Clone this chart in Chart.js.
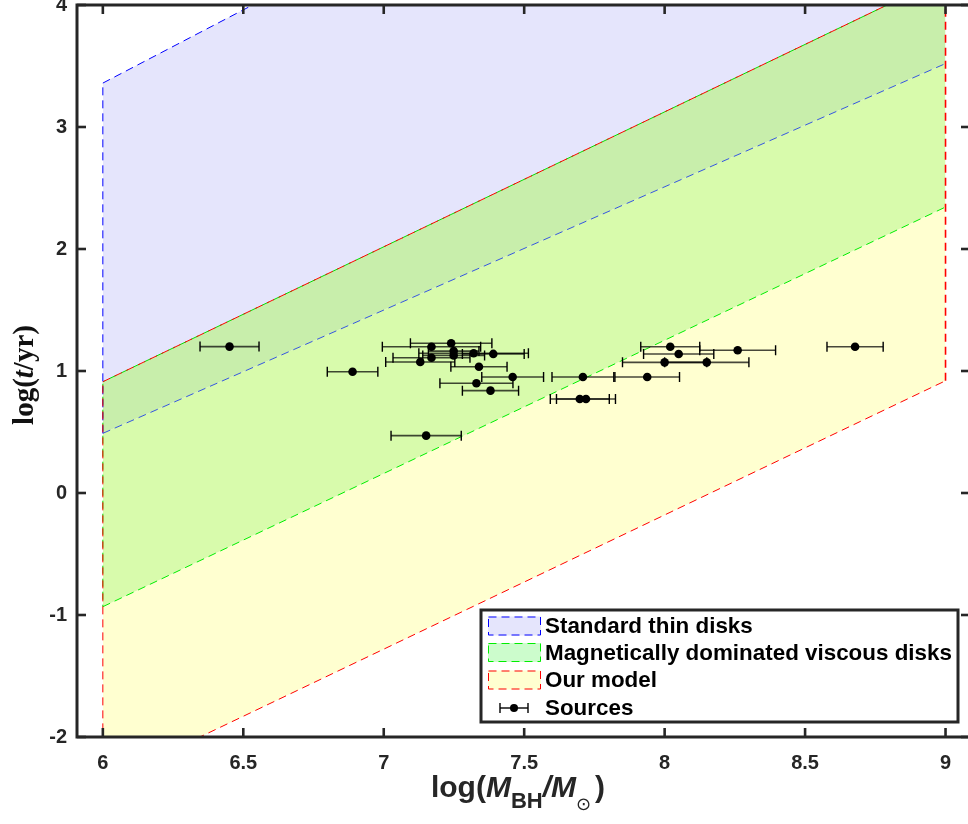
<!DOCTYPE html>
<html>
<head>
<meta charset="utf-8">
<script src="https://cdn.jsdelivr.net/npm/chart.js@4.4.1/dist/chart.umd.min.js"></script>
<style>
html, body { margin: 0; padding: 0; background: #fff; }
</style>
</head>
<body>
<canvas id="myChart" width="968" height="824"></canvas>
<script>
// band boundaries, evaluated at x = 6 and x = 9
var bandX = [6, 9];
var redLower = [-2.38, 0.92];
var greenLower = [-0.932, 2.344];
var blueLower = [0.489, 3.52];
var redUpper = [0.912, 4.23];
var blueUpper = [3.36, 6.96];

// sources: log M_BH, log t, error on log M_BH
var srcMass = [6.451, 6.889, 7.151, 7.130, 7.170, 7.240, 7.249, 7.249, 7.170, 7.320, 7.390, 7.339, 7.459, 7.330, 7.380, 7.709, 7.938, 7.698, 7.720, 8.020, 8.050, 8.260, 8.000, 8.150, 8.678];
var srcAge  = [1.200, 0.994, 0.470, 1.074, 1.199, 1.228, 1.163, 1.128, 1.109, 1.145, 1.140, 1.035, 0.951, 0.899, 0.839, 0.951, 0.951, 0.770, 0.770, 1.199, 1.139, 1.170, 1.071, 1.071, 1.199];
var srcErr  = [0.105, 0.090, 0.125, 0.123, 0.175, 0.145, 0.090, 0.110, 0.137, 0.195, 0.110, 0.100, 0.110, 0.130, 0.100, 0.110, 0.115, 0.105, 0.105, 0.105, 0.125, 0.135, 0.150, 0.150, 0.100];

var xTicks = [6, 6.5, 7, 7.5, 8, 8.5, 9];
var yTicks = [-2, -1, 0, 1, 2, 3, 4];
var legendLabels = ['Standard thin disks', 'Magnetically dominated viscous disks', 'Our model', 'Sources'];

var axisColor = '#262626';
var dash = [8, 5];

function pts(ys) {
    return bandX.map(function (x, i) { return { x: x, y: ys[i] }; });
}
function vert(x, y0, y1) {
    return [{ x: x, y: y0 }, { x: x, y: y1 }];
}
function edge(data, color, order, extra) {
    var d = {
        data: data, showLine: true, pointRadius: 0, borderColor: color,
        borderWidth: 1, borderDash: dash, fill: false, order: order
    };
    for (var k in extra) d[k] = extra[k];
    return d;
}

var datasets = [
    edge(pts(redLower), '#ff0000', 4),                                                   // 0
    edge(pts(greenLower), '#00ee00', 7, { fill: 0, backgroundColor: '#ffffd0' }),        // 1
    edge(pts(blueLower), '#3355dd', 5, { fill: 1, backgroundColor: '#d8fbac' }),         // 2
    edge(pts(redUpper), '#ff0000', 3, { fill: 2, backgroundColor: '#c8eeab' }),          // 3
    edge(pts(blueUpper), '#0000ff', 6, { fill: 3, backgroundColor: '#e5e5fc' }),         // 4
    edge(pts(redUpper), '#00dd00', 8, { borderDashOffset: 6 }),                          // 5 green top edge
    edge(vert(6, blueLower[0], blueUpper[0]), '#0000ff', 2),                             // 6
    edge(vert(6, greenLower[0], redUpper[0]), '#00dd00', 9, { borderDashOffset: 6 }),    // 7
    edge(vert(6, redLower[0], redUpper[0]), '#ff0000', 1),                               // 8
    edge(vert(9, redLower[1], redUpper[1]), '#ff0000', 1, { borderWidth: 1.6 }),         // 9
    {
        data: srcMass.map(function (m, i) { return { x: m, y: srcAge[i] }; }),
        pointRadius: 4.3, pointBackgroundColor: '#000', pointBorderWidth: 0,
        showLine: false, order: 0
    }
];
var srcIndex = datasets.length - 1;

var errorBars = {
    id: 'errorBars',
    beforeDatasetDraw: function (chart, args) {
        if (args.index !== srcIndex) return;
        var ctx = chart.ctx, xs = chart.scales.x, ys = chart.scales.y;
        ctx.save();
        srcMass.forEach(function (m, i) {
            var y = ys.getPixelForValue(srcAge[i]);
            var x0 = xs.getPixelForValue(m - srcErr[i]);
            var x1 = xs.getPixelForValue(m + srcErr[i]);
            ctx.strokeStyle = 'rgba(0,0,0,0.72)';
            ctx.lineWidth = 1.6;
            ctx.beginPath(); ctx.moveTo(x0, y); ctx.lineTo(x1, y); ctx.stroke();
            ctx.strokeStyle = '#000';
            ctx.lineWidth = 1.4;
            ctx.beginPath();
            ctx.moveTo(x0, y - 5); ctx.lineTo(x0, y + 5);
            ctx.moveTo(x1, y - 5); ctx.lineTo(x1, y + 5);
            ctx.stroke();
        });
        ctx.restore();
    }
};

function line(ctx, x0, y0, x1, y1) {
    ctx.beginPath(); ctx.moveTo(x0, y0); ctx.lineTo(x1, y1); ctx.stroke();
}

function drawPieces(ctx, pieces, cx, baseY) {
    var w = 0;
    pieces.forEach(function (p) { ctx.font = p.font; p.w = ctx.measureText(p.text).width; w += p.w + (p.gap || 0); });
    var x = cx - w / 2;
    ctx.textBaseline = 'alphabetic';
    ctx.textAlign = 'left';
    pieces.forEach(function (p) {
        ctx.font = p.font;
        ctx.fillText(p.text, x, baseY + (p.dy || 0));
        x += p.w + (p.gap || 0);
    });
}

var frame = {
    id: 'frame',
    afterDraw: function (chart) {
        var ctx = chart.ctx, a = chart.chartArea, xs = chart.scales.x, ys = chart.scales.y;
        var rightEdge = chart.width + 2;
        ctx.save();
        ctx.strokeStyle = axisColor;
        ctx.lineWidth = 2.6;
        xTicks.forEach(function (v) {
            var px = xs.getPixelForValue(v);
            line(ctx, px, a.bottom, px, a.bottom - 9);
            line(ctx, px, a.top, px, a.top + 9);
        });
        yTicks.forEach(function (v) {
            var py = ys.getPixelForValue(v);
            line(ctx, a.left, py, a.left + 9, py);
            line(ctx, rightEdge, py, rightEdge - 9, py);
        });
        ctx.lineWidth = 3;
        ctx.beginPath();
        ctx.moveTo(rightEdge, a.top); ctx.lineTo(a.left, a.top);
        ctx.lineTo(a.left, a.bottom); ctx.lineTo(rightEdge, a.bottom);
        ctx.stroke();

        // axis titles
        ctx.fillStyle = '#262626';
        var sans = '"Liberation Sans", Arial, sans-serif';
        drawPieces(ctx, [
            { text: 'log(', font: 'bold 30px ' + sans },
            { text: 'M', font: 'italic bold 30px ' + sans },
            { text: 'BH', font: 'bold 22px ' + sans, dy: 11 },
            { text: '/M', font: 'italic bold 30px ' + sans },
            { text: '\u2299', font: '18px "DejaVu Sans", sans-serif', dy: 13, gap: 4 },
            { text: ')', font: 'bold 30px ' + sans }
        ], 518, 797);

        ctx.save();
        ctx.translate(33, 375);
        ctx.rotate(-Math.PI / 2);
        ctx.fillStyle = '#111';
        var serif = '"Liberation Serif", "Times New Roman", serif';
        drawPieces(ctx, [
            { text: 'log(', font: 'bold 29px ' + serif },
            { text: 't', font: 'italic bold 29px ' + serif },
            { text: '/yr)', font: 'bold 29px ' + serif }
        ], 0, 0);
        ctx.restore();

        // legend
        var bx = 481, by = 610, bw = 477, bh = 112;
        ctx.fillStyle = '#fff';
        ctx.fillRect(bx, by, bw, bh);
        ctx.strokeStyle = axisColor;
        ctx.lineWidth = 3;
        ctx.strokeRect(bx, by, bw, bh);
        var swatches = [
            { fill: '#e5e5fc', stroke: '#0000ff' },
            { fill: '#ccfccc', stroke: '#00ee00' },
            { fill: '#ffffd0', stroke: '#ff0000' }
        ];
        var rowY = [626, 652.5, 680, 708];
        ctx.lineWidth = 1;
        ctx.setLineDash([8, 5]);
        swatches.forEach(function (s, i) {
            var y0 = rowY[i] - 9.5;
            ctx.fillStyle = s.fill;
            ctx.fillRect(488, y0, 53, 19);
            ctx.strokeStyle = s.stroke;
            ctx.strokeRect(488.5, y0 + 0.5, 52, 18);
        });
        ctx.setLineDash([]);
        ctx.strokeStyle = '#000';
        ctx.lineWidth = 1.4;
        line(ctx, 500, rowY[3], 528, rowY[3]);
        line(ctx, 500, rowY[3] - 5, 500, rowY[3] + 5);
        line(ctx, 528, rowY[3] - 5, 528, rowY[3] + 5);
        ctx.fillStyle = '#000';
        ctx.beginPath(); ctx.arc(514, rowY[3], 4, 0, Math.PI * 2); ctx.fill();
        ctx.font = 'bold 22.4px ' + sans;
        ctx.textAlign = 'left';
        ctx.textBaseline = 'middle';
        legendLabels.forEach(function (t, i) { ctx.fillText(t, 545, rowY[i] + 1); });
        ctx.restore();
    }
};

function noPad(s) {
    s.paddingTop = 0; s.paddingBottom = 0; s.paddingLeft = 0; s.paddingRight = 0;
}

var tickFont = { family: '"Liberation Sans", Arial, sans-serif', size: 20, weight: 'bold' };

var ctx = document.getElementById('myChart').getContext('2d');
var myChart = new Chart(ctx, {
    type: 'scatter',
    data: { datasets: datasets },
    options: {
        responsive: false,
        animation: false,
        devicePixelRatio: 1,
        layout: { autoPadding: false, padding: { top: 5, right: 0, left: 0, bottom: 0 } },
        plugins: {
            legend: { display: false },
            tooltip: { enabled: false },
            filler: { drawTime: 'beforeDatasetsDraw' }
        },
        scales: {
            x: {
                type: 'linear', min: 5.908, max: 9.080,
                afterBuildTicks: function (s) { s.ticks = xTicks.map(function (v) { return { value: v }; }); },
                afterFit: function (s) { s.height = 87; noPad(s); },
                grid: { display: false, drawTicks: false },
                border: { display: false },
                ticks: { padding: 14, color: axisColor, font: tickFont, maxRotation: 0, autoSkip: false,
                    callback: function (v) { return String(v); } }
            },
            y: {
                type: 'linear', min: -2, max: 4,
                afterBuildTicks: function (s) { s.ticks = yTicks.map(function (v) { return { value: v }; }); },
                afterFit: function (s) { s.width = 77; noPad(s); },
                grid: { display: false, drawTicks: false },
                border: { display: false },
                ticks: { padding: 10, color: axisColor, font: tickFont,
                    callback: function (v) { return String(v); } }
            }
        }
    },
    plugins: [errorBars, frame]
});
</script>
</body>
</html>
